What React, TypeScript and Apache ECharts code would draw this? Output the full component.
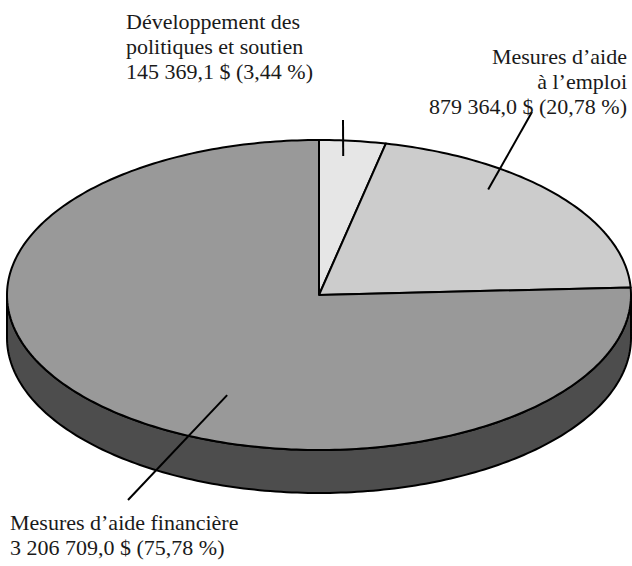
import React, { useEffect, useRef } from "react";
import * as echarts from "echarts";

const categories = [
  "Développement des politiques et soutien",
  "Mesures d’aide à l’emploi",
  "Mesures d’aide financière",
];
const amounts = [145369.1, 879364.0, 3206709.0];
const percents = [3.44, 20.78, 75.78];
const labelNameLines = [
  ["Développement des", "politiques et soutien"],
  ["Mesures d’aide", "à l’emploi"],
  ["Mesures d’aide financière"],
];
const sliceColors = ["#e6e6e6", "#cccccc", "#999999"];

// layout
const CX = 319;
const CY = 295;
const RX = 312;
const RY = 155;
const DEPTH = 43;
const SIDE_COLOR = "#4d4d4d";
// leader: [fraction within slice, radius fraction, outerX, outerY]
const leaders = [
  [0.4, 0.9, 343, 120],
  [0.35, 0.87, 532, 112],
  [0.43, 0.71, 128, 500],
];
// label block: [x, y(top), align]
const labelPos: [number, number, string][] = [
  [126, 9, "left"],
  [627, 44, "right"],
  [10, 510, "left"],
];

function fmtNum(v: number, dec: number) {
  const s = v.toFixed(dec);
  const [ip, dp] = s.split(".");
  const grouped = ip.replace(/\B(?=(\d{3})+(?!\d))/g, " ");
  return dp !== undefined ? grouped + "," + dp : grouped;
}

function pt(deg: number, rf = 1, dy = 0): number[] {
  const t = (deg * Math.PI) / 180;
  return [CX + RX * rf * Math.sin(t), CY - RY * rf * Math.cos(t) + dy];
}

function arc(a: number, b: number, dy = 0): number[][] {
  const n = Math.max(2, Math.ceil((b - a) / 1));
  const out: number[][] = [];
  for (let k = 0; k <= n; k++) out.push(pt(a + ((b - a) * k) / n, 1, dy));
  return out;
}

export default function App() {
  const ref = useRef<HTMLDivElement>(null);
  useEffect(() => {
    if (!ref.current) return;
    const chart = echarts.init(ref.current, null, { renderer: "svg" });
    const total = amounts.reduce((s, v) => s + v, 0);
    const starts: number[] = [];
    let acc = 0;
    amounts.forEach((v) => {
      starts.push((acc / total) * 360);
      acc += v;
    });

    const renderItem = (params: any, api: any) => {
      const i = params.dataIndex;
      const a = starts[i];
      const b = a + (api.value(0) / total) * 360;
      const children: any[] = [];
      const sa = Math.max(a, 90);
      const sb = Math.min(b, 270);
      if (sb > sa) {
        const top = arc(sa, sb, 0);
        const bot = arc(sa, sb, DEPTH).reverse();
        children.push({
          type: "polygon",
          z2: 1,
          shape: { points: top.concat(bot) },
          style: { fill: SIDE_COLOR, stroke: "#000", lineWidth: 2, lineJoin: "round" },
        });
      }
      children.push({
        type: "polygon",
        z2: 5,
        shape: { points: [[CX, CY]].concat(arc(a, b, 0)) },
        style: { fill: sliceColors[i], stroke: "#000", lineWidth: 2, lineJoin: "round" },
      });
      const [frac, rf, ox, oy] = leaders[i];
      const inner = pt(a + (b - a) * frac, rf);
      children.push({
        type: "line",
        z2: 10,
        shape: { x1: inner[0], y1: inner[1], x2: ox, y2: oy },
        style: { stroke: "#000", lineWidth: 2 },
      });
      return { type: "group", children };
    };

    const labels = amounts.map((v, i) => {
      const [lx, ly, al] = labelPos[i];
      const text =
        labelNameLines[i].join("\n") +
        "\n" +
        fmtNum(v, 1) +
        " $ (" +
        fmtNum(percents[i], 2) +
        " %)";
      return {
        type: "text",
        x: lx,
        y: ly,
        z: 10,
        style: {
          text,
          textAlign: al,
          textVerticalAlign: "top",
          fontFamily: "serif",
          fontSize: 22,
          lineHeight: 25,
          fill: "#1a1a1a",
        },
      };
    });

    chart.setOption({
      animation: false,
      backgroundColor: "#ffffff",
      series: [
        {
          type: "custom",
          coordinateSystem: "none",
          renderItem,
          data: amounts.map((v, i) => ({ name: categories[i], value: [v] })),
        },
      ],
      graphic: labels,
    });
    return () => chart.dispose();
  }, []);
  return (
    <div
      ref={ref}
      style={{ position: "fixed", left: 0, top: 0, width: 632, height: 566 }}
    />
  );
}
